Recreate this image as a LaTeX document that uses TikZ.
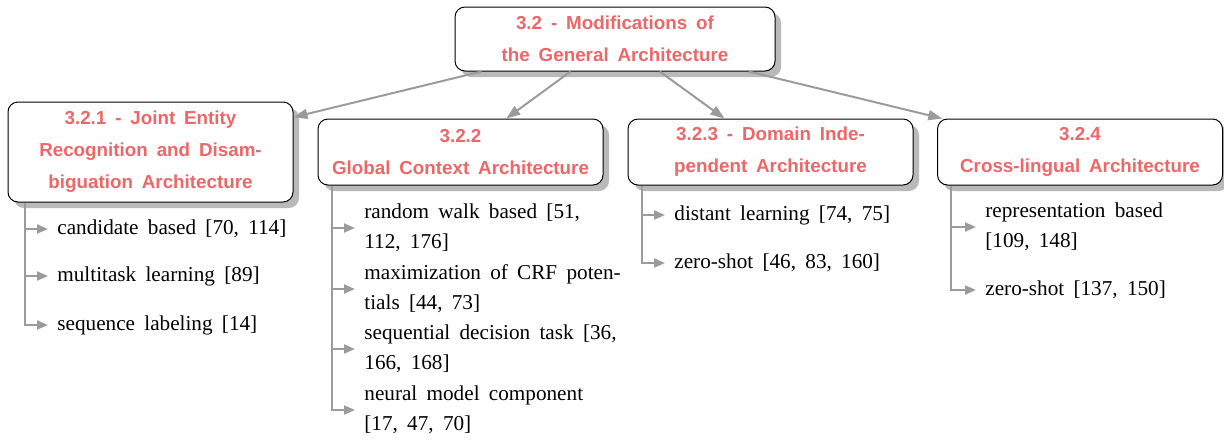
\documentclass[tikz,border=0pt]{standalone}
\usepackage{fontspec}
\setmainfont{Liberation Serif}[WordSpace=1.75]
\setsansfont{Liberation Sans}[WordSpace=1.7]
\usetikzlibrary{arrows.meta,shadows}
\definecolor{ttl}{RGB}{236,104,104}
\definecolor{lnk}{RGB}{155,155,155}
\definecolor{shd}{RGB}{185,185,185}
\begin{document}
\begin{tikzpicture}[x=0.5pt,y=-0.5pt,
  box/.style={draw=black, line width=0.5pt, rounded corners=5pt, fill=white,
    minimum width=142.5pt, minimum height=33pt, inner sep=0pt, align=center, text=ttl,
    font=\fontsize{9.4}{16}\selectfont\sffamily\bfseries,
    drop shadow={shadow xshift=3pt, shadow yshift=-3pt, fill=shd, opacity=1}},
  toparr/.style={draw=lnk, line width=1pt, -{Triangle[length=7pt,width=5pt]}},
  sub/.style={draw=lnk, line width=1pt, -{Triangle[length=5.5pt,width=4.5pt]}, shorten >=4.5pt},
  item/.style={inner sep=0pt, anchor=west, align=left, font=\fontsize{10.6}{15}\selectfont}]
\useasboundingbox (0,0) rectangle (1224,440);

\node[box, minimum width=160pt, minimum height=32pt] (root) at (615,39) {3.2 - Modifications of\\the General Architecture};
\node[box, minimum height=50pt] (c1) at (150.5,152) {3.2.1 - Joint Entity\\Recognition and Disam-\\biguation Architecture};
\node[box] (c2) at (460.5,152) {3.2.2\\Global Context Architecture};
\node[box] (c3) at (770.5,152) {3.2.3 - Domain Inde-\\pendent Architecture};
\node[box] (c4) at (1080,152) {3.2.4\\Cross-lingual Architecture};

\draw[toparr] (root) -- (c1);
\draw[toparr] (root) -- (c2);
\draw[toparr] (root) -- (c3);
\draw[toparr] (root) -- (c4);

% column 1
\coordinate (s1) at ([xshift=8.5pt]c1.south west);
\node[item] (i11) at (57,229) {candidate based [70, 114]};
\node[item] (i12) at (57,276) {multitask learning [89]};
\node[item] (i13) at (57,325) {sequence labeling [14]};
\draw[sub] (s1) |- (i13.west);
\draw[sub] (s1 |- i11.west) -- (i11.west);
\draw[sub] (s1 |- i12.west) -- (i12.west);

% column 2
\coordinate (s2) at ([xshift=7pt]c2.south west);
\node[item] (i21) at (364,228) {random walk based [51,\\112, 176]};
\node[item] (i22) at (364,289) {maximization of CRF poten-\\tials [44, 73]};
\node[item] (i23) at (364,349) {sequential decision task [36,\\166, 168]};
\node[item] (i24) at (364,410) {neural model component\\{}[17, 47, 70]};
\draw[sub] (s2) |- (i24.west);
\draw[sub] (s2 |- i21.west) -- (i21.west);
\draw[sub] (s2 |- i22.west) -- (i22.west);
\draw[sub] (s2 |- i23.west) -- (i23.west);

% column 3
\coordinate (s3) at ([xshift=7pt]c3.south west);
\node[item] (i31) at (674,215) {distant learning [74, 75]};
\node[item] (i32) at (674,263) {zero-shot [46, 83, 160]};
\draw[sub] (s3) |- (i32.west);
\draw[sub] (s3 |- i31.west) -- (i31.west);

% column 4
\coordinate (s4) at ([xshift=7pt]c4.south west);
\node[item] (i41) at (985,227) {representation based\\{}[109, 148]};
\node[item] (i42) at (985,290) {zero-shot [137, 150]};
\draw[sub] (s4) |- (i42.west);
\draw[sub] (s4 |- i41.west) -- (i41.west);
\end{tikzpicture}
\end{document}
